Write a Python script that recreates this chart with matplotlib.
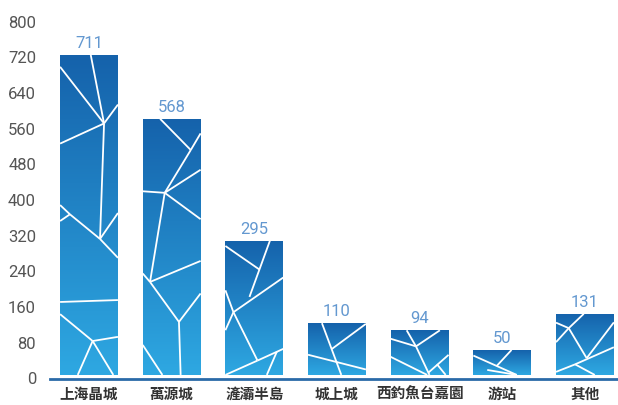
import numpy as np
import matplotlib
matplotlib.use("Agg")
import matplotlib.pyplot as plt
from matplotlib.colors import LinearSegmentedColormap
from matplotlib.patches import Rectangle

categories = ["上海晶城", "萬源城", "滻灞半島", "城上城", "西釣魚台嘉園", "游站", "其他"]
values = [711, 568, 295, 110, 94, 50, 131]
yticks = [0, 80, 160, 240, 320, 400, 480, 560, 640, 720, 800]

# decorative low-poly white lines, in bar-relative coords (u across, v down from top)
facets = [
    [[(0.53, 0), (0.76, 0.214)], [(0, 0.037), (0.76, 0.214)], [(0.76, 0.214), (1, 0.155)],
     [(0, 0.277), (0.76, 0.214)], [(0.76, 0.214), (0.69, 0.575)], [(0.69, 0.575), (1, 0.494)],
     [(0.69, 0.575), (1, 0.634)], [(0.69, 0.575), (0.17, 0.498)], [(0.17, 0.498), (0, 0.469)],
     [(0.17, 0.498), (0, 0.519)], [(0, 0.772), (1, 0.766)], [(0, 0.81), (0.563, 0.894)],
     [(0.563, 0.894), (1, 0.881)], [(0.563, 0.894), (0.305, 1)], [(0.563, 0.894), (0.92, 1)]],
    [[(0.30, 0), (0.83, 0.122)], [(0.83, 0.122), (1, 0.057)], [(0.83, 0.122), (0.38, 0.289)],
     [(0.38, 0.289), (1, 0.199)], [(0.38, 0.289), (1, 0.392)], [(0.38, 0.289), (0, 0.283)],
     [(0.38, 0.289), (0.126, 0.637)], [(0.126, 0.637), (1, 0.555)], [(0.126, 0.637), (0.626, 0.793)],
     [(0, 0.604), (0.126, 0.637)], [(0.626, 0.793), (1, 0.682)], [(0.626, 0.793), (0.655, 1)],
     [(0, 0.883), (0.34, 1)]],
    [[(0, 0.04), (0.59, 0.216)], [(0.77, 0), (0.416, 0.419)], [(0.139, 0.533), (1, 0.275)],
     [(0, 0.37), (0.139, 0.533)], [(0.139, 0.533), (0, 0.667)], [(0.139, 0.533), (0.555, 0.893)],
     [(0.555, 0.893), (1, 0.806)], [(0, 1), (0.555, 0.893)], [(0.89, 0.826), (0.716, 1)]],
    [[(0.24, 0), (0.575, 1)], [(0.41, 0.5), (1, 0.013)], [(0, 0.61), (1, 0.895)]],
    [[(0.276, 0), (0.437, 0.36)], [(0.437, 0.36), (0.85, 0)], [(0, 0.19), (0.437, 0.36)],
     [(0.437, 0.36), (0.67, 1)], [(0, 0.595), (0.63, 1)], [(0.65, 0.95), (1, 0.55)],
     [(0.8, 0.76), (0.95, 1)]],
    [[(0.66, 0), (0.40, 0.65)], [(0, 0.225), (0.75, 1)], [(0.24, 0.8), (0.75, 1)]],
    [[(0.48, 0), (0.22, 0.235)], [(0, 0.145), (0.22, 0.235)], [(0, 0.464), (0.22, 0.235)],
     [(0.22, 0.235), (0.53, 0.726)], [(0.53, 0.726), (1, 0.14)], [(0.33, 0.827), (1, 0.547)],
     [(0, 0.95), (0.33, 0.827)], [(0.33, 0.827), (0.67, 1)]],
]

plt.rcParams['font.family'] = ['Roboto', 'DejaVu Sans']

fig = plt.figure(figsize=(6.18, 4.05), dpi=100)
ax = fig.add_axes([50 / 618, 1 - 378.5 / 405, 1 - 50 / 618, (378.5 - 21.5) / 405])

x = np.arange(len(categories))
width = 0.70
base = 8
extra = 6

cmap = LinearSegmentedColormap.from_list("g", ["#2ea8e2", "#1562ab"])
grad = np.linspace(0, 1, 256).reshape(-1, 1)

for i, (xi, v) in enumerate(zip(x, values)):
    x0, x1 = xi - width / 2, xi + width / 2
    y0, y1 = base, base + v + extra
    rect = Rectangle((x0, y0), width, y1 - y0, facecolor="none", edgecolor="none")
    ax.add_patch(rect)
    im = ax.imshow(grad, cmap=cmap, aspect="auto", origin="lower",
                   extent=[x0, x1, y0, y1], zorder=2, interpolation="bilinear")
    im.set_clip_path(rect)
    for (ua, va), (ub, vb) in facets[i]:
        ln, = ax.plot([x0 + ua * width, x0 + ub * width],
                      [y1 - va * (y1 - y0), y1 - vb * (y1 - y0)],
                      color="white", lw=1.3, zorder=3, solid_capstyle="butt")
        ln.set_clip_path(rect)
    ax.text(xi, y1 + 9, str(v), ha="center", va="bottom", color="#6398d0",
            fontsize=12, zorder=4)

ax.set_xlim(-0.472, 6.4)
ax.set_ylim(0, 800)
ax.set_yticks(yticks)
ax.set_yticklabels([str(t) for t in yticks], color="#555555", fontsize=12)
ax.tick_params(axis="y", length=0, pad=10)
ax.set_xticks(x)
ax.set_xticklabels(categories, family=['Noto Sans CJK TC', 'DejaVu Sans'],
                   fontsize=10.5, fontweight="bold", color="#333333")
ax.tick_params(axis="x", length=0, pad=5)
for s in ["top", "right", "left"]:
    ax.spines[s].set_visible(False)
ax.spines["bottom"].set_color("#2a6aa8")
ax.spines["bottom"].set_linewidth(2)

fig.savefig("out.png", dpi=100)
